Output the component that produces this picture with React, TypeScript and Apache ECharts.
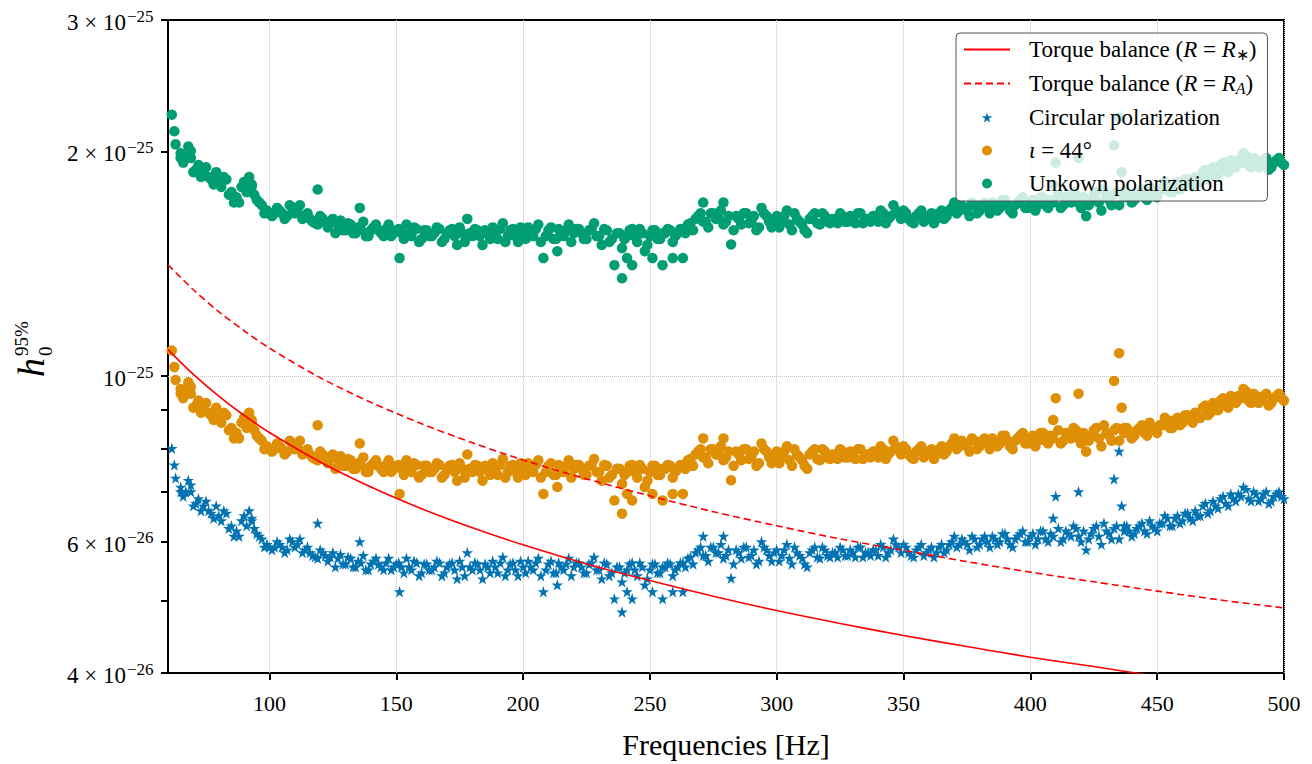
import React, { useEffect, useRef } from 'react';
import * as echarts from 'echarts';

// All strain values are in units of 1e-26
const freqs = [
  61.5, 62.5, 65, 66, 68, 69, 70, 72, 74, 76,
  78, 80, 82, 84, 86, 88, 90, 92, 93, 94,
  96, 98, 100, 102, 104, 106, 108, 110, 112, 114,
  116, 118, 119, 120, 122, 124, 126, 128, 130, 132,
  134, 135.6, 136, 138, 140, 142, 144, 146, 148, 150,
  151.3, 152, 154, 156, 158, 160, 162, 164, 166, 168,
  170, 172, 174, 176, 178, 180, 182, 184, 186, 188,
  190, 192, 194, 196, 198, 200, 202, 204, 206, 208,
  210, 212, 213.5, 214, 216, 218, 220, 222, 224, 226,
  228, 230, 232, 234, 236, 238, 239, 240, 241, 242,
  243, 244, 246, 248, 250, 251, 252, 254, 255, 256,
  258, 259, 260, 262, 263, 264, 266, 268, 270, 271,
  272, 274, 276, 278, 279, 280, 282, 284, 286, 288,
  290, 292, 294, 296, 298, 300, 302, 304, 306, 308,
  310, 312, 314, 316, 318, 320, 322, 324, 326, 328,
  330, 332, 334, 336, 338, 340, 342, 344, 346, 348,
  350, 352, 354, 356, 358, 360, 362, 364, 366, 368,
  370, 372, 374, 376, 378, 380, 382, 384, 386, 388,
  390, 392, 394, 396, 398, 400, 402, 404, 406, 408,
  409, 410, 412, 414, 416, 418, 419, 420, 422, 424,
  426, 428, 430, 432, 433, 434, 435, 436, 437, 438,
  440, 442, 444, 446, 448, 450, 452, 454, 456, 458,
  460, 462, 464, 466, 468, 470, 472, 474, 476, 478,
  480, 482, 484, 486, 488, 490, 492, 494, 496, 498,
  500,
];

const circularPol = [
  8.0, 7.6, 7.0, 6.9, 7.25, 7.0, 6.7, 6.85, 6.7, 6.6,
  6.45, 6.5, 6.6, 6.25, 6.1, 6.1, 6.5, 6.6, 6.4, 6.25,
  6.1, 5.9, 5.9, 5.9, 5.95, 5.8, 6.05, 5.9, 6.05, 5.85,
  5.8, 5.72, 6.35, 5.85, 5.75, 5.72, 5.55, 5.77, 5.6, 5.7,
  5.55, 6.0, 5.62, 5.5, 5.6, 5.7, 5.55, 5.62, 5.5, 5.6,
  5.14, 5.55, 5.7, 5.5, 5.62, 5.45, 5.6, 5.5, 5.65, 5.4,
  5.55, 5.62, 5.35, 5.55, 5.8, 5.5, 5.6, 5.35, 5.55, 5.65,
  5.45, 5.72, 5.5, 5.62, 5.4, 5.55, 5.65, 5.5, 5.7, 5.14,
  5.6, 5.45, 5.25, 5.62, 5.5, 5.7, 5.55, 5.62, 5.45, 5.6,
  5.72, 5.5, 5.62, 5.4, 5.03, 5.55, 4.83, 5.45, 5.14, 5.6,
  5.03, 5.5, 5.62, 5.25, 5.5, 5.14, 5.6, 5.45, 5.03, 5.55,
  5.6, 5.14, 5.5, 5.62, 5.14, 5.55, 5.72, 5.8, 5.9, 6.1,
  5.75, 5.9, 5.8, 5.95, 6.1, 5.75, 5.36, 5.85, 5.7, 5.9,
  5.75, 5.6, 6.0, 5.85, 5.65, 5.85, 5.75, 5.95, 5.6, 5.8,
  5.7, 5.55, 5.85, 5.72, 5.9, 5.75, 5.8, 5.72, 5.85, 5.75,
  5.8, 5.9, 5.72, 5.8, 5.85, 5.75, 5.9, 5.8, 6.05, 5.9,
  5.95, 5.8, 5.72, 5.9, 5.75, 5.85, 5.72, 5.9, 5.8, 5.95,
  6.1, 5.95, 6.0, 5.85, 6.05, 5.95, 6.1, 5.9, 6.05, 6.0,
  6.15, 5.95, 6.05, 6.15, 6.0, 6.1, 5.95, 6.2, 6.05, 6.15,
  6.45, 6.9, 6.0, 6.2, 6.1, 6.25, 7.0, 6.0, 5.85, 6.15,
  6.3, 5.95, 6.2, 6.05, 7.28, 6.3, 7.93, 6.7, 6.2, 6.3,
  6.1, 6.25, 6.35, 6.15, 6.3, 6.2, 6.35, 6.45, 6.3, 6.5,
  6.4, 6.55, 6.4, 6.5, 6.7, 6.55, 6.8, 6.65, 6.9, 6.7,
  6.85, 6.95, 7.1, 6.85, 7.0, 6.8, 6.95, 6.75, 6.9, 7.0,
  6.85,
];

const iota44 = [
  10.82, 10.28, 9.47, 9.34, 9.81, 9.47, 9.07, 9.27, 9.07, 8.93,
  8.73, 8.79, 8.93, 8.46, 8.25, 8.25, 8.79, 8.93, 8.66, 8.46,
  8.25, 7.98, 7.98, 7.98, 8.05, 7.85, 8.19, 7.98, 8.19, 7.92,
  7.85, 7.74, 8.59, 7.92, 7.78, 7.74, 7.51, 7.81, 7.58, 7.71,
  7.51, 8.12, 7.60, 7.44, 7.58, 7.71, 7.51, 7.60, 7.44, 7.58,
  6.95, 7.51, 7.71, 7.44, 7.60, 7.37, 7.58, 7.44, 7.64, 7.31,
  7.51, 7.60, 7.24, 7.51, 7.85, 7.44, 7.58, 7.24, 7.51, 7.64,
  7.37, 7.74, 7.44, 7.60, 7.31, 7.51, 7.64, 7.44, 7.71, 6.95,
  7.58, 7.37, 7.10, 7.60, 7.44, 7.71, 7.51, 7.60, 7.37, 7.58,
  7.74, 7.44, 7.60, 7.31, 6.81, 7.51, 6.54, 7.37, 6.95, 7.58,
  6.81, 7.44, 7.60, 7.10, 7.44, 6.95, 7.58, 7.37, 6.81, 7.51,
  7.58, 6.95, 7.44, 7.60, 6.95, 7.51, 7.74, 7.85, 7.98, 8.25,
  7.78, 7.98, 7.85, 8.05, 8.25, 7.78, 7.25, 7.92, 7.71, 7.98,
  7.78, 7.58, 8.12, 7.92, 7.64, 7.92, 7.78, 8.05, 7.58, 7.85,
  7.71, 7.51, 7.92, 7.74, 7.98, 7.78, 7.85, 7.74, 7.92, 7.78,
  7.85, 7.98, 7.74, 7.85, 7.92, 7.78, 7.98, 7.85, 8.19, 7.98,
  8.05, 7.85, 7.74, 7.98, 7.78, 7.92, 7.74, 7.98, 7.85, 8.05,
  8.25, 8.05, 8.12, 7.92, 8.19, 8.05, 8.25, 7.98, 8.19, 8.12,
  8.32, 8.05, 8.19, 8.32, 8.12, 8.25, 8.05, 8.39, 8.19, 8.32,
  8.73, 9.34, 8.12, 8.39, 8.25, 8.46, 9.47, 8.12, 7.92, 8.32,
  8.52, 8.05, 8.39, 8.19, 9.85, 8.52, 10.73, 9.07, 8.39, 8.52,
  8.25, 8.46, 8.59, 8.32, 8.52, 8.39, 8.59, 8.73, 8.52, 8.79,
  8.66, 8.86, 8.66, 8.79, 9.07, 8.86, 9.20, 9.00, 9.34, 9.07,
  9.27, 9.40, 9.61, 9.27, 9.47, 9.20, 9.40, 9.13, 9.34, 9.47,
  9.27,
];

const unknownPol = [
  22.40, 21.28, 19.60, 19.32, 20.30, 19.60, 18.76, 19.18, 18.76, 18.48,
  18.06, 18.20, 18.48, 17.50, 17.08, 17.08, 18.20, 18.48, 17.92, 17.50,
  17.08, 16.52, 16.52, 16.52, 16.66, 16.24, 16.94, 16.52, 16.94, 16.38,
  16.24, 16.02, 17.78, 16.38, 16.10, 16.02, 15.54, 16.16, 15.68, 15.96,
  15.54, 16.80, 15.74, 15.40, 15.68, 15.96, 15.54, 15.74, 15.40, 15.68,
  14.39, 15.54, 15.96, 15.40, 15.74, 15.26, 15.68, 15.40, 15.82, 15.12,
  15.54, 15.74, 14.98, 15.54, 16.24, 15.40, 15.68, 14.98, 15.54, 15.82,
  15.26, 16.02, 15.40, 15.74, 15.12, 15.54, 15.82, 15.40, 15.96, 14.39,
  15.68, 15.26, 14.70, 15.74, 15.40, 15.96, 15.54, 15.74, 15.26, 15.68,
  16.02, 15.40, 15.74, 15.12, 14.08, 15.54, 13.52, 15.26, 14.39, 15.68,
  14.08, 15.40, 15.74, 14.70, 15.40, 14.39, 15.68, 15.26, 14.08, 15.54,
  15.68, 14.39, 15.40, 15.74, 14.39, 15.54, 16.02, 16.24, 16.52, 17.08,
  16.10, 16.52, 16.24, 16.66, 17.08, 16.10, 15.01, 16.38, 15.96, 16.52,
  16.10, 15.68, 16.80, 16.38, 15.82, 16.38, 16.10, 16.66, 15.68, 16.24,
  15.96, 15.54, 16.38, 16.02, 16.52, 16.10, 16.24, 16.02, 16.38, 16.10,
  16.24, 16.52, 16.02, 16.24, 16.38, 16.10, 16.52, 16.24, 16.94, 16.52,
  16.66, 16.24, 16.02, 16.52, 16.10, 16.38, 16.02, 16.52, 16.24, 16.66,
  17.08, 16.66, 16.80, 16.38, 16.94, 16.66, 17.08, 16.52, 16.94, 16.80,
  17.22, 16.66, 16.94, 17.22, 16.80, 17.08, 16.66, 17.36, 16.94, 17.22,
  18.06, 19.32, 16.80, 17.36, 17.08, 17.50, 19.60, 16.80, 16.38, 17.22,
  17.64, 16.66, 17.36, 16.94, 20.38, 17.64, 22.20, 18.76, 17.36, 17.64,
  17.08, 17.50, 17.78, 17.22, 17.64, 17.36, 17.78, 18.06, 17.64, 18.20,
  17.92, 18.34, 17.92, 18.20, 18.76, 18.34, 19.04, 18.62, 19.32, 18.76,
  19.18, 19.46, 19.88, 19.18, 19.60, 19.04, 19.46, 18.90, 19.32, 19.60,
  19.18,
];

// second set of frequency bins (odd Hz)
const freqsOdd = [
  63, 65, 67, 69, 71, 73, 75, 77, 79, 81,
  83, 85, 87, 89, 91, 93, 95, 97, 99, 101,
  103, 105, 107, 109, 111, 113, 115, 117, 119, 121,
  123, 125, 127, 129, 131, 133, 135, 137, 139, 141,
  143, 145, 147, 149, 151, 153, 155, 157, 159, 161,
  163, 165, 167, 169, 171, 173, 175, 177, 179, 181,
  183, 185, 187, 189, 191, 193, 195, 197, 199, 201,
  203, 205, 207, 209, 211, 213, 215, 217, 219, 221,
  223, 225, 227, 229, 231, 233, 235, 237, 239, 241,
  243, 245, 247, 249, 251, 253, 255, 257, 259, 261,
  263, 265, 267, 269, 271, 273, 275, 277, 279, 281,
  283, 285, 287, 289, 291, 293, 295, 297, 299, 301,
  303, 305, 307, 309, 311, 313, 315, 317, 319, 321,
  323, 325, 327, 329, 331, 333, 335, 337, 339, 341,
  343, 345, 347, 349, 351, 353, 355, 357, 359, 361,
  363, 365, 367, 369, 371, 373, 375, 377, 379, 381,
  383, 385, 387, 389, 391, 393, 395, 397, 399, 401,
  403, 405, 407, 409, 411, 413, 415, 417, 419, 421,
  423, 425, 427, 429, 431, 433, 435, 437, 439, 441,
  443, 445, 447, 449, 451, 453, 455, 457, 459, 461,
  463, 465, 467, 469, 471, 473, 475, 477, 479, 481,
  483, 485, 487, 489, 491, 493, 495, 497, 499,
];

const circularPolOdd = [
  7.3, 7.1, 7.0, 7.15, 6.75, 6.6, 6.8, 6.55, 6.7, 6.4,
  6.55, 6.3, 6.2, 6.4, 6.3, 6.45, 6.15, 6.05, 5.95, 5.85,
  6.0, 5.9, 5.85, 6.0, 5.95, 5.8, 5.9, 5.75, 5.7, 5.8,
  5.65, 5.8, 5.7, 5.6, 5.72, 5.55, 5.65, 5.75, 5.5, 5.65,
  5.6, 5.5, 5.7, 5.55, 5.62, 5.45, 5.55, 5.65, 5.4, 5.6,
  5.5, 5.55, 5.62, 5.45, 5.6, 5.5, 5.65, 5.4, 5.55, 5.62,
  5.5, 5.6, 5.45, 5.55, 5.62, 5.4, 5.6, 5.5, 5.65, 5.45,
  5.55, 5.62, 5.4, 5.5, 5.65, 5.45, 5.55, 5.6, 5.4, 5.62,
  5.55, 5.45, 5.62, 5.5, 5.35, 5.6, 5.45, 5.55, 5.3, 5.5,
  5.62, 5.4, 5.55, 5.35, 5.6, 5.45, 5.55, 5.62, 5.4, 5.55,
  5.62, 5.7, 5.6, 5.85, 5.75, 5.65, 5.9, 5.8, 5.7, 5.85,
  5.6, 5.8, 5.9, 5.72, 5.85, 5.65, 5.9, 5.75, 5.8, 5.65,
  5.85, 5.7, 5.9, 5.75, 5.6, 5.8, 5.9, 5.7, 5.85, 5.72,
  5.8, 5.9, 5.75, 5.85, 5.72, 5.9, 5.8, 5.75, 5.85, 5.95,
  5.72, 5.85, 5.95, 5.8, 5.9, 5.75, 5.85, 5.95, 5.8, 5.9,
  5.8, 5.95, 5.85, 6.0, 5.9, 6.05, 5.95, 6.1, 5.9, 6.05,
  6.0, 6.1, 5.95, 6.15, 6.05, 5.9, 6.1, 6.2, 6.0, 6.15,
  6.05, 6.2, 6.0, 6.1, 6.25, 6.05, 6.15, 6.3, 6.1, 6.2,
  6.05, 6.25, 6.1, 6.35, 6.15, 6.25, 6.05, 6.3, 6.2, 6.15,
  6.3, 6.2, 6.4, 6.25, 6.35, 6.5, 6.3, 6.45, 6.35, 6.55,
  6.45, 6.6, 6.5, 6.75, 6.6, 6.7, 6.85, 6.75, 6.95, 6.8,
  6.9, 7.05, 6.8, 6.95, 6.85, 7.0, 6.8, 6.95, 6.9,
];

const iota44Odd = [
  9.88, 9.61, 9.47, 9.67, 9.13, 8.93, 9.20, 8.86, 9.07, 8.66,
  8.86, 8.52, 8.39, 8.66, 8.52, 8.73, 8.32, 8.19, 8.05, 7.92,
  8.12, 7.98, 7.92, 8.12, 8.05, 7.85, 7.98, 7.78, 7.71, 7.85,
  7.64, 7.85, 7.71, 7.58, 7.74, 7.51, 7.64, 7.78, 7.44, 7.64,
  7.58, 7.44, 7.71, 7.51, 7.60, 7.37, 7.51, 7.64, 7.31, 7.58,
  7.44, 7.51, 7.60, 7.37, 7.58, 7.44, 7.64, 7.31, 7.51, 7.60,
  7.44, 7.58, 7.37, 7.51, 7.60, 7.31, 7.58, 7.44, 7.64, 7.37,
  7.51, 7.60, 7.31, 7.44, 7.64, 7.37, 7.51, 7.58, 7.31, 7.60,
  7.51, 7.37, 7.60, 7.44, 7.24, 7.58, 7.37, 7.51, 7.17, 7.44,
  7.60, 7.31, 7.51, 7.24, 7.58, 7.37, 7.51, 7.60, 7.31, 7.51,
  7.60, 7.71, 7.58, 7.92, 7.78, 7.64, 7.98, 7.85, 7.71, 7.92,
  7.58, 7.85, 7.98, 7.74, 7.92, 7.64, 7.98, 7.78, 7.85, 7.64,
  7.92, 7.71, 7.98, 7.78, 7.58, 7.85, 7.98, 7.71, 7.92, 7.74,
  7.85, 7.98, 7.78, 7.92, 7.74, 7.98, 7.85, 7.78, 7.92, 8.05,
  7.74, 7.92, 8.05, 7.85, 7.98, 7.78, 7.92, 8.05, 7.85, 7.98,
  7.85, 8.05, 7.92, 8.12, 7.98, 8.19, 8.05, 8.25, 7.98, 8.19,
  8.12, 8.25, 8.05, 8.32, 8.19, 7.98, 8.25, 8.39, 8.12, 8.32,
  8.19, 8.39, 8.12, 8.25, 8.46, 8.19, 8.32, 8.52, 8.25, 8.39,
  8.19, 8.46, 8.25, 8.59, 8.32, 8.46, 8.19, 8.52, 8.39, 8.32,
  8.52, 8.39, 8.66, 8.46, 8.59, 8.79, 8.52, 8.73, 8.59, 8.86,
  8.73, 8.93, 8.79, 9.13, 8.93, 9.07, 9.27, 9.13, 9.40, 9.20,
  9.34, 9.54, 9.20, 9.40, 9.27, 9.47, 9.20, 9.40, 9.34,
];

const unknownPolOdd = [
  20.44, 19.88, 19.60, 20.02, 18.90, 18.48, 19.04, 18.34, 18.76, 17.92,
  18.34, 17.64, 17.36, 17.92, 17.64, 18.06, 17.22, 16.94, 16.66, 16.38,
  16.80, 16.52, 16.38, 16.80, 16.66, 16.24, 16.52, 16.10, 15.96, 16.24,
  15.82, 16.24, 15.96, 15.68, 16.02, 15.54, 15.82, 16.10, 15.40, 15.82,
  15.68, 15.40, 15.96, 15.54, 15.74, 15.26, 15.54, 15.82, 15.12, 15.68,
  15.40, 15.54, 15.74, 15.26, 15.68, 15.40, 15.82, 15.12, 15.54, 15.74,
  15.40, 15.68, 15.26, 15.54, 15.74, 15.12, 15.68, 15.40, 15.82, 15.26,
  15.54, 15.74, 15.12, 15.40, 15.82, 15.26, 15.54, 15.68, 15.12, 15.74,
  15.54, 15.26, 15.74, 15.40, 14.98, 15.68, 15.26, 15.54, 14.84, 15.40,
  15.74, 15.12, 15.54, 14.98, 15.68, 15.26, 15.54, 15.74, 15.12, 15.54,
  15.74, 15.96, 15.68, 16.38, 16.10, 15.82, 16.52, 16.24, 15.96, 16.38,
  15.68, 16.24, 16.52, 16.02, 16.38, 15.82, 16.52, 16.10, 16.24, 15.82,
  16.38, 15.96, 16.52, 16.10, 15.68, 16.24, 16.52, 15.96, 16.38, 16.02,
  16.24, 16.52, 16.10, 16.38, 16.02, 16.52, 16.24, 16.10, 16.38, 16.66,
  16.02, 16.38, 16.66, 16.24, 16.52, 16.10, 16.38, 16.66, 16.24, 16.52,
  16.24, 16.66, 16.38, 16.80, 16.52, 16.94, 16.66, 17.08, 16.52, 16.94,
  16.80, 17.08, 16.66, 17.22, 16.94, 16.52, 17.08, 17.36, 16.80, 17.22,
  16.94, 17.36, 16.80, 17.08, 17.50, 16.94, 17.22, 17.64, 17.08, 17.36,
  16.94, 17.50, 17.08, 17.78, 17.22, 17.50, 16.94, 17.64, 17.36, 17.22,
  17.64, 17.36, 17.92, 17.50, 17.78, 18.20, 17.64, 18.06, 17.78, 18.34,
  18.06, 18.48, 18.20, 18.90, 18.48, 18.76, 19.18, 18.90, 19.46, 19.04,
  19.32, 19.74, 19.04, 19.46, 19.18, 19.60, 19.04, 19.46, 19.32,
];

const torqueFreqs = [60, 70, 80, 90, 100, 120, 140, 160, 180, 200, 225, 250, 275, 300, 325, 350, 375, 400, 425, 450, 475, 500];
const torqueRstar = [10.85, 10.05, 9.4, 8.86, 8.4, 7.67, 7.1, 6.64, 6.26, 5.94, 5.6, 5.32, 5.07, 4.85, 4.66, 4.49, 4.34, 4.2, 4.08, 3.96, 3.85, 3.75];
const torqueRA = [14.1, 13.05, 12.2, 11.5, 10.9, 9.95, 9.22, 8.63, 8.14, 7.72, 7.28, 6.91, 6.58, 6.3, 6.05, 5.84, 5.64, 5.46, 5.3, 5.15, 5.01, 4.89];

const xTicks = [100, 150, 200, 250, 300, 350, 400, 450, 500];
const yTicks = [4, 5, 6, 7, 8, 9, 10, 20, 30];
const yLabelValues = [4, 6, 10, 20, 30];
const yLabelMantissa = ['4 × 10', '6 × 10', '10', '2 × 10', '3 × 10'];
const yLabelExp = ['−26', '−26', '−25', '−25', '−25'];

const NAME_RSTAR = 'Torque balance (R = R*)';
const NAME_RA = 'Torque balance (R = RA)';
const NAME_CIRC = 'Circular polarization';
const NAME_IOTA = 'ι = 44°';
const NAME_UNK = 'Unkown polarization';

const SERIF = 'Liberation Serif, Times New Roman, serif';
const BLUE = '#0173b2';
const ORANGE = '#de8f05';
const GREEN = '#029e73';
const STAR = 'path://M50,0 L61.2,34.5 L97.6,34.5 L68.2,55.9 L79.4,90.5 L50,69.1 L20.6,90.5 L31.8,55.9 L2.4,34.5 L38.8,34.5 Z';

const legendRich: Record<string, string> = {
  [NAME_RSTAR]: '{t|Torque balance (}{i|R}{t| = }{i|R}{s|∗}{t|)}',
  [NAME_RA]: '{t|Torque balance (}{i|R}{t| = }{i|R}{si|A}{t|)}',
  [NAME_CIRC]: '{t|Circular polarization}',
  [NAME_IOTA]: '{i|ι}{t| = 44°}',
  [NAME_UNK]: '{t|Unkown polarization}',
};

function zip(xs: number[], ys: number[]) {
  return xs.map((x, i) => [x, ys[i]]);
}

export default function App() {
  const ref = useRef<HTMLDivElement>(null);

  useEffect(() => {
    if (!ref.current) return;
    const chart = echarts.init(ref.current, null, { renderer: 'svg' });
    const yNameGroup = {
      id: 'yname', type: 'group', x: 31, y: 377, rotation: Math.PI / 2, silent: true,
      children: [
        { type: 'text', x: 0, y: 0, style: { text: 'h', fontFamily: SERIF, fontStyle: 'italic', fontSize: 38, fill: '#000', verticalAlign: 'middle', align: 'left' } },
        { type: 'text', x: 21, y: -10, style: { text: '95%', fontFamily: SERIF, fontSize: 19, fill: '#000', verticalAlign: 'middle', align: 'left' } },
        { type: 'text', x: 21, y: 14, style: { text: '0', fontFamily: SERIF, fontSize: 19, fill: '#000', verticalAlign: 'middle', align: 'left' } },
      ],
    };
    const option: any = {
      animation: false,
      backgroundColor: '#fff',
      textStyle: { fontFamily: SERIF },
      grid: {
        left: 168, right: 28, top: 20, bottom: 91,
        show: true, borderColor: '#000', borderWidth: 2,
        backgroundColor: 'transparent',
        outerBoundsMode: 'none',
      },
      legend: {
        orient: 'vertical',
        left: 956, top: 33,
        data: [
          { name: NAME_RSTAR, itemStyle: { opacity: 0 } },
          { name: NAME_RA, itemStyle: { opacity: 0 } },
          NAME_CIRC, NAME_IOTA, NAME_UNK,
        ],
        itemWidth: 46, itemHeight: 10, itemGap: 10,
        padding: [5, 11, 6, 7],
        backgroundColor: 'rgba(255,255,255,0.8)',
        borderColor: '#555', borderWidth: 1, borderRadius: 4,
        selectedMode: false,
        formatter: (name: string) => legendRich[name] || name,
        textStyle: {
          fontFamily: SERIF, fontSize: 23, color: '#000',
          padding: [0, 0, 0, 14],
          rich: {
            t: { fontFamily: SERIF, fontSize: 23, color: '#000', lineHeight: 25 },
            i: { fontFamily: SERIF, fontSize: 23, fontStyle: 'italic', color: '#000', lineHeight: 25 },
            s: { fontFamily: SERIF, fontSize: 16, color: '#000', lineHeight: 15, verticalAlign: 'bottom' },
            si: { fontFamily: SERIF, fontSize: 16, fontStyle: 'italic', color: '#000', lineHeight: 15, verticalAlign: 'bottom' },
          },
        },
      },
      xAxis: {
        type: 'value', min: 60, max: 500,
        axisLine: { show: false },
        axisTick: { show: true, length: 7, lineStyle: { color: '#000', width: 2 }, customValues: xTicks },
        axisLabel: { customValues: xTicks, fontFamily: SERIF, fontSize: 22, color: '#000', margin: 19 },
        splitLine: { show: true, lineStyle: { type: 'dotted', color: '#c4c4c4', width: 1 } },
        name: 'Frequencies [Hz]', nameLocation: 'middle', nameGap: 56,
        nameTextStyle: { fontFamily: SERIF, fontSize: 30, color: '#000' },
      },
      yAxis: [
        {
          type: 'log', logBase: 10, min: 4, max: 30,
          axisLine: { show: false },
          axisTick: { show: true, length: 7, lineStyle: { color: '#000', width: 2 }, customValues: yTicks },
          axisLabel: { show: false },
          splitLine: { show: false },
        },
        {
          type: 'log', logBase: 10, min: 4, max: 30,
          axisLine: { show: false }, axisTick: { show: false }, axisLabel: { show: false },
          splitLine: { show: true, showMinLine: false, showMaxLine: false, lineStyle: { type: 'dotted', color: '#c4c4c4', width: 1 } },
        },
      ],
      graphic: [yNameGroup],
      series: [
        {
          name: NAME_UNK, type: 'scatter', data: zip(freqs, unknownPol).concat(zip(freqsOdd, unknownPolOdd)),
          symbol: 'circle', symbolSize: 10.5, itemStyle: { color: GREEN, opacity: 1 }, silent: true, z: 2,
        },
        {
          name: NAME_IOTA, type: 'scatter', data: zip(freqs, iota44).concat(zip(freqsOdd, iota44Odd)),
          symbol: 'circle', symbolSize: 10.5, itemStyle: { color: ORANGE, opacity: 1 }, silent: true, z: 2,
        },
        {
          name: NAME_CIRC, type: 'scatter', data: zip(freqs, circularPol).concat(zip(freqsOdd, circularPolOdd)),
          symbol: STAR, symbolSize: 11.5, itemStyle: { color: BLUE, opacity: 1 }, silent: true, z: 2,
        },
        {
          name: NAME_RSTAR, type: 'line', data: zip(torqueFreqs, torqueRstar),
          symbol: 'none', smooth: 0.3, lineStyle: { color: '#ff0000', width: 1.6 }, itemStyle: { color: '#ff0000', opacity: 0 },
          silent: true, z: 3, clip: true,
        },
        {
          name: NAME_RA, type: 'line', data: zip(torqueFreqs, torqueRA),
          symbol: 'none', smooth: 0.3, lineStyle: { color: '#ff0000', width: 1.6, type: [7, 4] }, itemStyle: { color: '#ff0000', opacity: 0 },
          silent: true, z: 3, clip: true,
        },
      ],
    };
    chart.setOption(option);

    // y tick labels (mantissa × 10^exponent) placed through the axis scale
    const labelEls: any[] = [];
    yLabelValues.forEach((v, i) => {
      const py = chart.convertToPixel({ yAxisIndex: 0 }, v) as number;
      labelEls.push({
        id: 'ym' + i, type: 'text', x: 126, y: py + 2.5, silent: true,
        style: { text: yLabelMantissa[i], align: 'right', verticalAlign: 'middle', fontFamily: SERIF, fontSize: 23, fill: '#000' },
      });
      labelEls.push({
        id: 'ye' + i, type: 'text', x: 127, y: py - 4, silent: true,
        style: { text: yLabelExp[i], align: 'left', verticalAlign: 'middle', fontFamily: SERIF, fontSize: 17, fill: '#000' },
      });
    });
    chart.setOption({ graphic: [yNameGroup, ...labelEls] });

    return () => chart.dispose();
  }, []);

  return (
    <div
      ref={ref}
      style={{ position: 'fixed', left: 0, top: 0, width: 1312, height: 764, background: '#fff' }}
    />
  );
}
